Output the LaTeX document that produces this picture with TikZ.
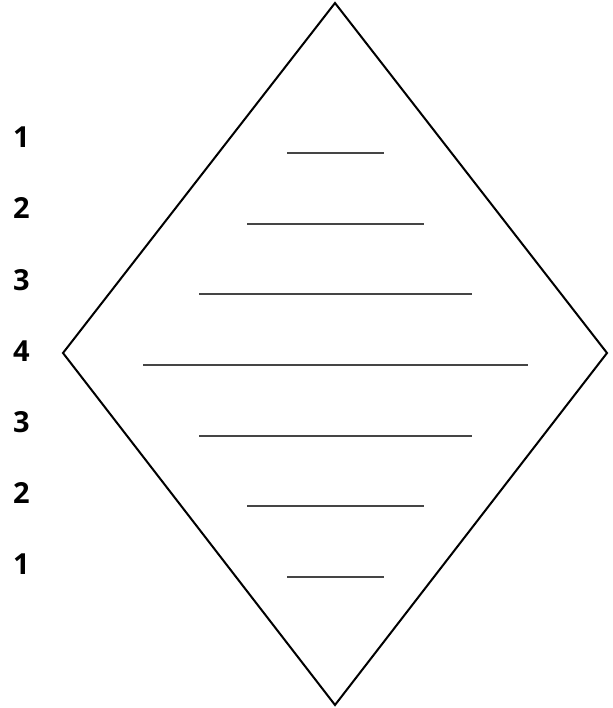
\documentclass[tikz,border=0pt]{standalone}
\usepackage{fontspec}
\setmainfont{Open Sans}
\usepackage{xcolor}
\usepackage{tikz}
\usetikzlibrary{positioning, calc}

\definecolor{blankgray}{HTML}{454545}

\begin{document}
\begin{tikzpicture}[
    x=1pt, y=-1pt,
    num/.style={anchor=base west, inner sep=0pt, font=\fontsize{29}{29}\selectfont\bfseries},
    rhomb/.style={line width=2pt, line join=miter},
    blank/.style={draw=blankgray, line width=1.8pt}]
    \useasboundingbox (0,0) rectangle (612,708);
    % diamond
    \coordinate (top)   at (335,3);
    \coordinate (right) at (607,353);
    \coordinate (bot)   at (335,705);
    \coordinate (left)  at (63,353);
    \draw[rhomb] (top) -- (right) -- (bot) -- (left) -- cycle;
    % row numbers
    \node[num] (n1) at (13,148) {1};
    \node[num] (n2) at (13,219) {2};
    \node[num] (n3) at (13,290) {3};
    \node[num] (n4) at (13,361) {4};
    \node[num] (n5) at (13,432) {3};
    \node[num] (n6) at (13,503) {2};
    \node[num] (n7) at (13,574) {1};
    % blanks
    \draw[blank] (287,153) -- (384,153);
    \draw[blank] (247,224) -- (424,224);
    \draw[blank] (199,294) -- (472,294);
    \draw[blank] (143,365) -- (528,365);
    \draw[blank] (199,436) -- (472,436);
    \draw[blank] (247,506) -- (424,506);
    \draw[blank] (287,577) -- (384,577);
\end{tikzpicture}
\end{document}
